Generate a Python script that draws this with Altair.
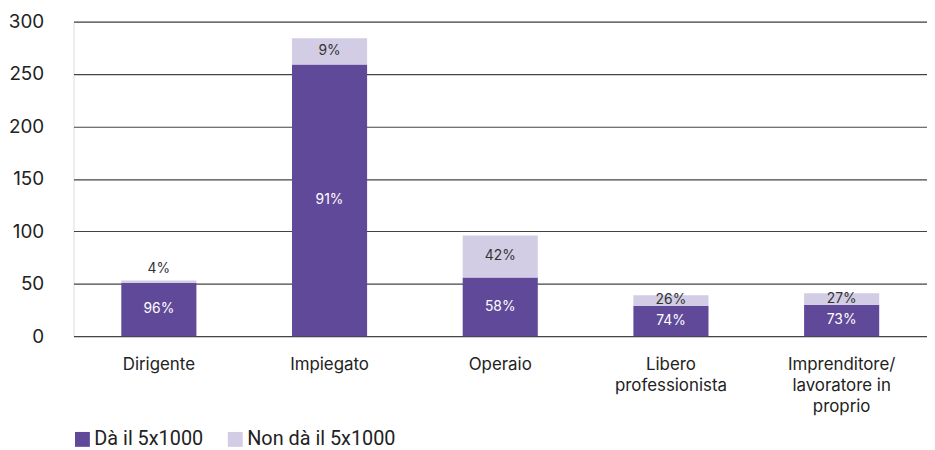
import altair as alt
import pandas as pd

categories = ["Dirigente", "Impiegato", "Operaio", "Libero\nprofessionista", "Imprenditore/\nlavoratore in\nproprio"]
da_values = [51, 259, 56, 29, 30]
non_values = [2, 25, 40, 10, 11]
da_pct = ["96%", "91%", "58%", "74%", "73%"]
non_pct = ["4%", "9%", "42%", "26%", "27%"]
series = ["Dà il 5x1000", "Non dà il 5x1000"]
colors = ["#61499a", "#d2cde4"]

rows = []
for i, c in enumerate(categories):
    rows.append({"cat": c, "serie": series[0], "v": da_values[i], "lab": da_pct[i], "order": 0,
                 "ly": da_values[i] / 2})
    total = da_values[i] + non_values[i]
    small = non_values[i] < 5
    rows.append({"cat": c, "serie": series[1], "v": non_values[i], "lab": non_pct[i], "order": 1,
                 "ly": total + 11 if small else da_values[i] + non_values[i] / 2})
df = pd.DataFrame(rows)

FONT = "Inter"
LEGEND_FONT = "Roboto"

x = alt.X("cat:N", sort=categories, title=None,
          scale=alt.Scale(paddingInner=0.56, paddingOuter=0.28),
          axis=alt.Axis(labelExpr="split(datum.label, '\\n')", labelAngle=0, domain=False, ticks=False,
                        labelFontSize=17, labelColor="#222", labelFont=FONT, labelPadding=21,
                        labelLineHeight=21))

bars = alt.Chart(df).mark_bar().encode(
    x=x,
    y=alt.Y("v:Q", stack="zero", title=None,
            scale=alt.Scale(domain=[0, 300]),
            axis=alt.Axis(values=[0, 50, 100, 150, 200, 250, 300], domain=False, ticks=False,
                          labelFontSize=19, labelColor="#222", labelFont=FONT, labelPadding=30,
                          gridColor="#444", gridWidth=1.2)),
    color=alt.Color("serie:N", sort=series, scale=alt.Scale(domain=series, range=colors),
                    legend=alt.Legend(title=None, orient="none", legendX=-1, legendY=411,
                                      direction="horizontal", symbolType="square", symbolSize=225,
                                      symbolStrokeWidth=0, labelFontSize=20, labelFont=LEGEND_FONT,
                                      labelColor="#222", columnPadding=22, labelOffset=2)),
    order=alt.Order("order:Q"),
)

text = alt.Chart(df).mark_text(font=FONT, fontSize=14).encode(
    x=alt.X("cat:N", sort=categories),
    y=alt.Y("ly:Q"),
    text="lab:N",
    color=alt.Color("serie:N", scale=alt.Scale(domain=series, range=["#ffffff", "#333333"]), legend=None),
)

chart = alt.layer(bars, text).resolve_scale(color="independent").properties(
    width=860, height=317,
    autosize=alt.AutoSizeParams(type="none"),
    padding={"left": 66, "top": 12, "right": 0, "bottom": 113},
).configure_view(stroke=None).configure(background="#ffffff")

chart.save("out.html", embed_options={"renderer": "svg", "actions": False})
